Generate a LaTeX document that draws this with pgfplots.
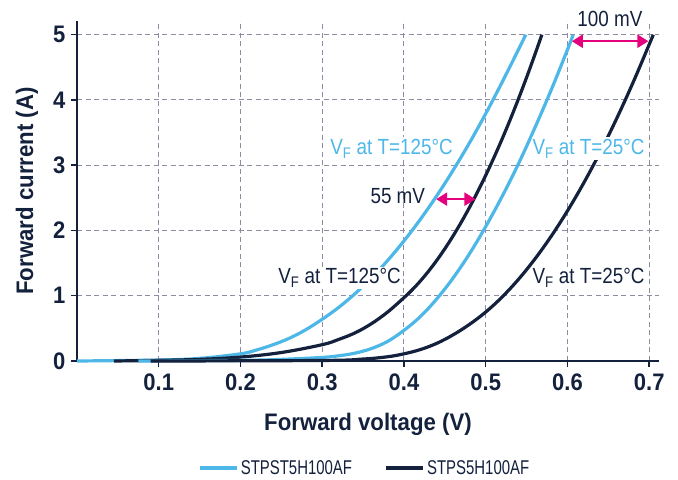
\documentclass[border=0pt]{standalone}
\usepackage{pgfplots}
\pgfplotsset{compat=1.18}
\usetikzlibrary{arrows.meta}
\usepackage{fontspec}
\setmainfont{Liberation Sans}
\newfontfamily\condfont[FakeStretch=0.86]{Liberation Sans}
\newfontfamily\labfont[FakeStretch=0.93]{Liberation Sans}
\newfontfamily\legfont[FakeStretch=0.75]{Liberation Sans}
\newfontfamily\tickfont[FakeStretch=0.92]{Liberation Sans}
\definecolor{lb}{RGB}{77,184,232}
\definecolor{navy}{RGB}{20,33,61}
\definecolor{mag}{RGB}{229,0,125}
\definecolor{gridc}{RGB}{142,140,163}
\tikzset{lab/.style={anchor=base west, fill=white, inner xsep=1bp, inner ysep=2bp, font=\condfont\fontsize{22}{24}\selectfont}}
\begin{document}
\begin{tikzpicture}
\path[use as bounding box] (0,0) rectangle (678bp,480bp);
\begin{axis}[
  at={(77bp,119bp)}, anchor=south west,
  width=582bp, height=340bp, scale only axis,
  xmin=0, xmax=0.712, ymin=0, ymax=5.21,
  axis lines=left, axis line style={-, line width=2.7bp, navy},
  xtick={0.1,0.2,0.3,0.4,0.5,0.6,0.7},
  ytick={0,1,2,3,4,5},
  xticklabels={0.1,0.2,0.3,0.4,0.5,0.6,0.7},
  tick align=outside, major tick length=6bp,
  tick style={line width=1.5bp, navy},
  grid=major,
  major grid style={dashed, dash pattern=on 5bp off 3.5bp, line width=1bp, gridc},
  ticklabel style={font=\tickfont\bfseries\fontsize{24}{26}\selectfont, text=navy},
  xticklabel style={yshift=-3bp},
  yticklabel style={xshift=-2bp},
  /pgf/number format/assume math mode=true,
  xlabel={Forward voltage (V)},
  ylabel={Forward current (A)},
  every axis x label/.style={at={(axis description cs:0.5,-0.185)}, anchor=center, font=\labfont\bfseries\fontsize{24}{26}\selectfont, text=navy},
  every axis y label/.style={at={(axis description cs:-0.086,0.5)}, rotate=90, anchor=center, font=\labfont\bfseries\fontsize{24}{26}\selectfont, text=navy},
  clip=false,
  legend columns=2,
  legend style={at={(axis description cs:0.494,-0.315)}, anchor=center, draw=none, fill=none,
    font=\legfont\fontsize{20}{22}\selectfont, text=navy,
    /tikz/every even column/.append style={column sep=30bp}},
  legend image code/.code={\draw[#1, line width=4bp] (0bp,0bp) -- (37bp,0bp);},
]
% STPST5H100AF at 125C
\addplot[lb, line width=3.2bp, smooth, tension=0.6, forget plot] coordinates {
(0,0) (0.1,0.015) (0.15,0.04) (0.2,0.11) (0.22,0.17) (0.24,0.25) (0.26,0.35)
(0.28,0.48) (0.3,0.64) (0.32,0.82) (0.34,1.03) (0.36,1.27) (0.38,1.54)
(0.4,1.84) (0.42,2.17) (0.44,2.53) (0.46,2.92) (0.48,3.34) (0.5,3.79)
(0.52,4.27) (0.54,4.77) (0.549,5.0)};
% STPS5H100AF at 125C
\addplot[navy, line width=3.2bp, smooth, tension=0.6, forget plot] coordinates {
(0.045,0) (0.1,0.01) (0.15,0.025) (0.2,0.06) (0.25,0.13) (0.3,0.25)
(0.32,0.33) (0.34,0.43) (0.36,0.57) (0.38,0.75) (0.4,0.97) (0.41,1.09)
(0.42,1.225) (0.43,1.375) (0.44,1.54) (0.45,1.72) (0.46,1.915) (0.47,2.125)
(0.48,2.35) (0.49,2.59) (0.5,2.845) (0.51,3.115) (0.52,3.4) (0.53,3.7)
(0.54,4.015) (0.55,4.345) (0.56,4.69) (0.5687,5.0)};
% STPST5H100AF at 25C
\addplot[lb, line width=3.2bp, smooth, tension=0.6, forget plot] coordinates {
(0.075,0) (0.2,0.01) (0.25,0.025) (0.3,0.055) (0.32,0.08) (0.34,0.12)
(0.36,0.19) (0.38,0.3) (0.4,0.47) (0.42,0.68) (0.44,0.95) (0.46,1.27)
(0.48,1.64) (0.5,2.06) (0.52,2.52) (0.54,3.02) (0.56,3.57) (0.58,4.15)
(0.6,4.77) (0.607,5.0)};
% STPS5H100AF at 25C
\addplot[navy, line width=3.2bp, smooth, tension=0.6, forget plot] coordinates {
(0.09,0) (0.3,0.008) (0.35,0.03) (0.38,0.065) (0.4,0.11) (0.42,0.175)
(0.44,0.27) (0.46,0.4) (0.48,0.56) (0.5,0.75) (0.52,0.98) (0.54,1.25)
(0.56,1.56) (0.58,1.91) (0.6,2.3) (0.62,2.73) (0.64,3.2) (0.66,3.71)
(0.68,4.26) (0.7,4.85) (0.705,5.0)};
\addlegendimage{lb}
\addlegendentry{STPST5H100AF}
\addlegendimage{navy}
\addlegendentry{STPS5H100AF}
% annotations
\node[lab, text=lb] at (axis cs:0.3085,3.16) {V\textsubscript{F} at T=125°C};
\node[lab, text=lb] at (axis cs:0.5558,3.16) {V\textsubscript{F} at T=25°C};
\node[lab, text=navy] at (axis cs:0.2448,1.18) {V\textsubscript{F} at T=125°C};
\node[lab, text=navy] at (axis cs:0.5558,1.18) {V\textsubscript{F} at T=25°C};
\node[anchor=base east, text=navy, inner sep=0pt, font=\condfont\fontsize{22}{24}\selectfont] at (axis cs:0.426,2.41) {55 mV};
\node[anchor=base west, text=navy, inner sep=0pt, font=\condfont\fontsize{22}{24}\selectfont] at (axis cs:0.612,5.12) {100 mV};
\draw[mag, line width=2.5bp, {Triangle[length=11bp,width=13bp]}-{Triangle[length=11bp,width=13bp]}] (axis cs:0.4394,2.48) -- (axis cs:0.4874,2.48);
\draw[mag, line width=2.5bp, {Triangle[length=11bp,width=13bp]}-{Triangle[length=11bp,width=13bp]}] (axis cs:0.6054,4.9) -- (axis cs:0.699,4.9);
\end{axis}
\end{tikzpicture}
\end{document}
